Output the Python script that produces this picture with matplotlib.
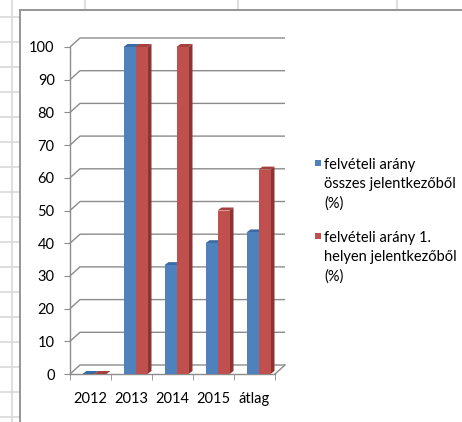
import matplotlib
matplotlib.use("Agg")
import matplotlib.pyplot as plt
from matplotlib.patches import Polygon, Rectangle
from matplotlib.lines import Line2D

plt.rcParams['font.family'] = ['Lato', 'DejaVu Sans']

# ---- data ----
categories = ["2012", "2013", "2014", "2015", "átlag"]
osszes = [0, 100, 33.3, 40, 43.3]
elso_hely = [0, 100, 100, 50, 62.5]
series_labels = ["felvételi arány\nösszes jelentkezőből\n(%)",
                 "felvételi arány 1.\nhelyen jelentkezőből\n(%)"]
y_ticks = list(range(0, 101, 10))

# ---- style ----
W, H = 462, 422
BLUE, BLUE_TOP, BLUE_SIDE = "#4f81bd", "#3c6aa3", "#355d8f"
RED, RED_TOP, RED_SIDE = "#c0504d", "#a6403d", "#8a3533"
GRID = "#8c8c8c"
SHEET = "#d9d9d9"
FS = 10.5

fig = plt.figure(figsize=(W / 100, H / 100), dpi=100)
fig.patch.set_facecolor("white")

def fx(px):
    return px / W

def fy(py):
    return 1 - py / H

# spreadsheet gridlines
for x in [12, 85, 238, 397]:
    top = H if x == 12 else 10
    fig.add_artist(Line2D([fx(x), fx(x)], [fy(0), fy(top)], color=SHEET, lw=1.2, zorder=0))
for y in range(17, H, 25):
    fig.add_artist(Line2D([fx(0), fx(20)], [fy(y), fy(y)], color=SHEET, lw=1.2, zorder=0))
# chart frame
fig.add_artist(Rectangle((fx(20), fy(H + 5)), fx(W), fy(10) - fy(H + 5),
                         facecolor="white", edgecolor="#8e8e8e", lw=1.3, zorder=0.5))

# axes: x from -0.5 (px 70) to 4.5 (px 275); y 0 at px 374, 100 at px 47
ax = fig.add_axes([fx(70), fy(374), fx(275) - fx(70), fy(47) - fy(374)])
ax.set_facecolor("none")
ax.set_xlim(-0.5, len(categories) - 0.5)
ax.set_ylim(0, 100)
ax.set_zorder(2)

ddx, ddy = 10 / 41, 9 / 3.27  # back wall depth offset (data units)

# back wall gridlines with diagonal connectors
for v in y_ticks:
    ax.plot([-0.5, -0.5 + ddx, len(categories) - 0.5 + ddx], [v, v + ddy, v + ddy],
            color=GRID, lw=1, zorder=1, clip_on=False, solid_capstyle="butt")
# floor right diagonal
ax.plot([len(categories) - 0.5, len(categories) - 0.5 + ddx], [0, ddy],
        color=GRID, lw=1, zorder=1, clip_on=False)

# bars
bw = 12 / 41
shift = 4 / 41
sdx, sdy = 4 / 41, 3 / 3.27
xs = list(range(len(categories)))

def faces(x0, v, top_c, side_c, z):
    ax.add_patch(Polygon([(x0, v), (x0 + bw, v), (x0 + bw + sdx, v + sdy), (x0 + sdx, v + sdy)],
                         closed=True, facecolor=top_c, edgecolor="none", zorder=z, clip_on=False))
    ax.add_patch(Polygon([(x0 + bw, 0), (x0 + bw, v), (x0 + bw + sdx, v + sdy), (x0 + bw + sdx, sdy)],
                         closed=True, facecolor=side_c, edgecolor="none", zorder=z, clip_on=False))

for i, x in enumerate(xs):
    xb = x + shift - bw
    xr = x + shift
    faces(xb, osszes[i], BLUE_TOP, BLUE_SIDE, 3)
    ax.bar(xb, osszes[i], width=bw, align="edge", color=BLUE, zorder=3.5, clip_on=False)
    faces(xr, elso_hely[i], RED_TOP, RED_SIDE, 4)
    ax.bar(xr, elso_hely[i], width=bw, align="edge", color=RED, zorder=4.5, clip_on=False)

# axes styling
for s in ["top", "right"]:
    ax.spines[s].set_visible(False)
for s in ["left", "bottom"]:
    ax.spines[s].set_color(GRID)
    ax.spines[s].set_linewidth(1)
ax.set_yticks(y_ticks)
ax.set_yticklabels([str(v) for v in y_ticks], fontsize=FS, color="black")
ax.tick_params(axis="y", length=4, color=GRID, pad=7)
ax.set_xticks(xs)
ax.set_xticklabels(categories, fontsize=FS, color="black")
ax.set_xticks([x - 0.5 for x in xs] + [len(xs) - 0.5], minor=True)
ax.tick_params(axis="x", which="major", length=0, pad=13)
ax.tick_params(axis="x", which="minor", length=4, color=GRID)

# legend (manual, Excel-like with square aligned to first line)
leg = [(BLUE, series_labels[0], 160), (RED, series_labels[1], 233)]
for col, lab, ytop in leg:
    fig.add_artist(Rectangle((fx(315), fy(ytop + 6)), fx(6), fy(ytop) - fy(ytop + 6),
                             facecolor=col, edgecolor="none", zorder=5))
    fig.text(fx(324), fy(ytop - 2), lab, fontsize=FS, va="top", ha="left",
             linespacing=1.45, zorder=5)

fig.savefig("out.png", dpi=100)
